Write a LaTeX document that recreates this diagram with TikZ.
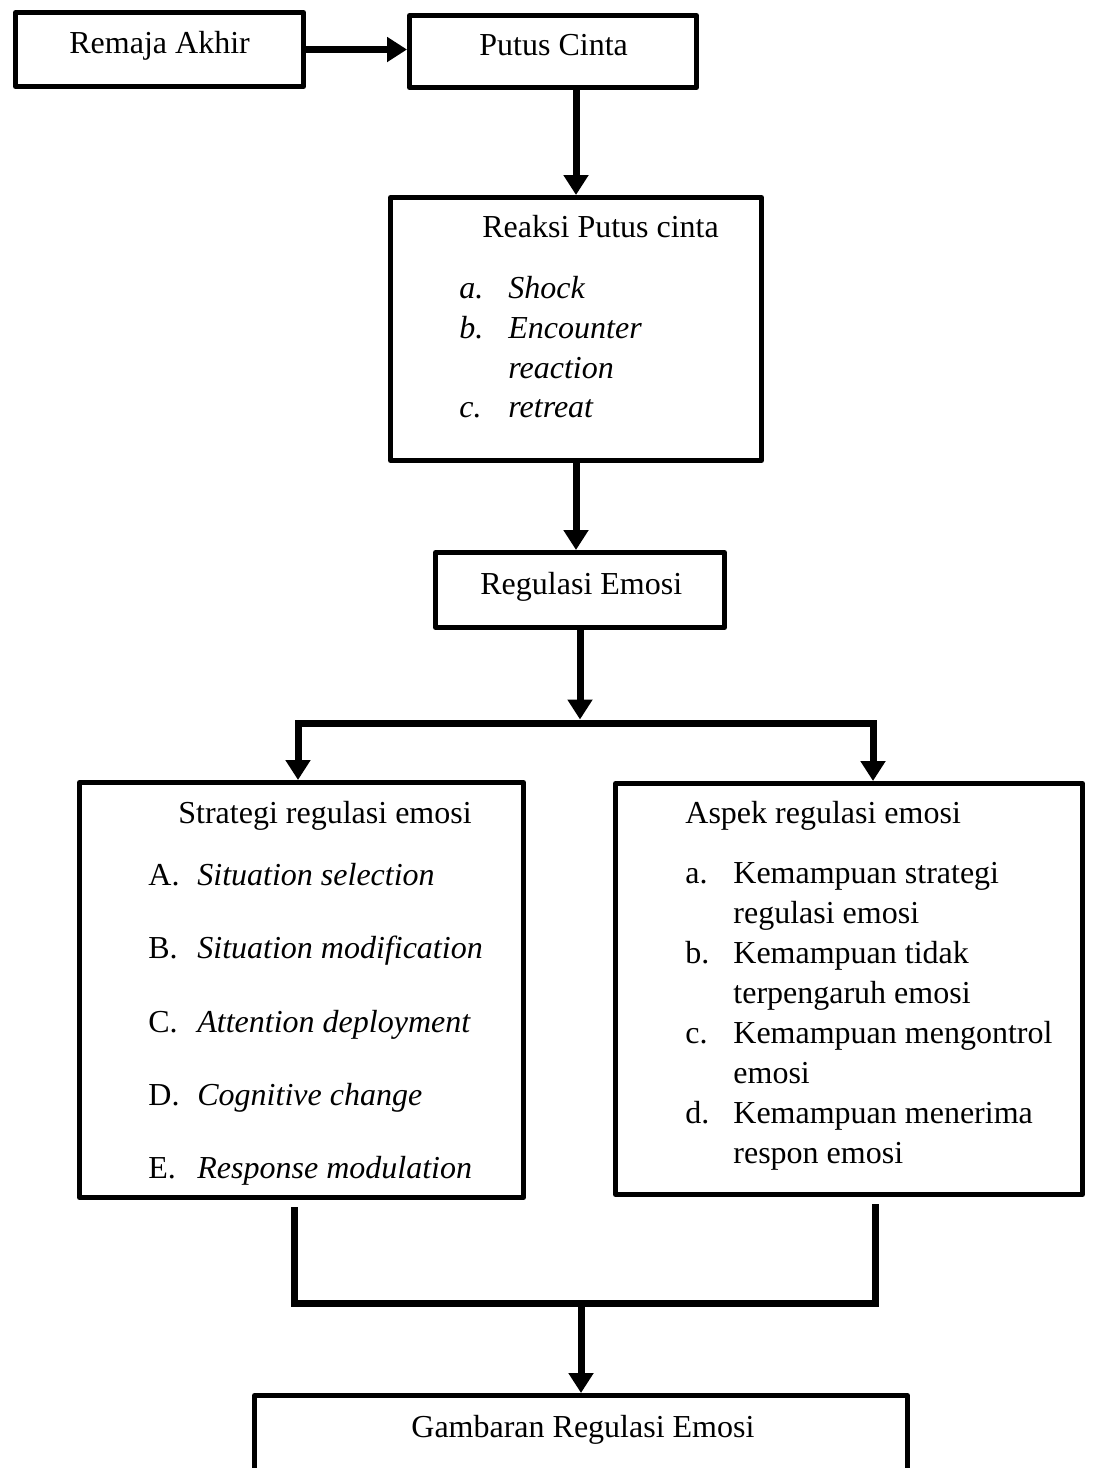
\documentclass[tikz,border=0pt]{standalone}
\usepackage{fontspec}
\setmainfont{Liberation Serif}
\usetikzlibrary{arrows.meta}
\begin{document}
\begin{tikzpicture}[x=0.5pt,y=-0.5pt,
  box/.style={draw, line width=2.5pt, inner sep=0pt, line join=round},
  txt/.style={inner sep=0pt, anchor=base west, font=\fontsize{16}{20}\selectfont},
  arr/.style={line width=3.5pt, -{Triangle[length=10pt,width=12pt]}, line join=miter},
  conn/.style={line width=3.5pt, line join=miter}]
\useasboundingbox (0,0) rectangle (1094,1468);
\clip (0,0) rectangle (1094,1468);

% boxes
\node[box, minimum width=144pt, minimum height=37pt] (remaja) at (159.5,49.5) {};
\node[box, minimum width=143.5pt, minimum height=36pt] (putus) at (553,51.5) {};
\node[box, minimum width=185.5pt, minimum height=131.5pt] (reaksi) at (576,329) {};
\node[box, minimum width=144.5pt, minimum height=37.5pt] (regulasi) at (580,590) {};
\node[box, minimum width=222pt, minimum height=207.5pt] (strategi) at (301.5,990) {};
\node[box, minimum width=233.5pt, minimum height=205.5pt] (aspek) at (849,989) {};
\node[box, minimum width=326.5pt, minimum height=61pt] (gambaran) at (581,1456.5) {};

% texts
\node[txt] (t1) at (69,53) {Remaja Akhir};
\node[txt] (t2) at (479,55) {Putus Cinta};
\node[txt] (t3) at (482,237) {Reaksi Putus cinta};
\node[txt] (r1a) at (459,298) {\itshape a.};
\node[txt] (r1b) at (508,298) {\itshape Shock};
\node[txt] (r2a) at (459,338) {\itshape b.};
\node[txt] (r2b) at (508,338) {\itshape Encounter};
\node[txt] (r2c) at (508,378) {\itshape reaction};
\node[txt] (r3a) at (459,417) {\itshape c.};
\node[txt] (r3b) at (508,417) {\itshape retreat};
\node[txt] (t4) at (480,594) {Regulasi Emosi};

\node[txt] (t5) at (178,823) {Strategi regulasi emosi};
\node[txt] (sA) at (148,885) {A.};
\node[txt] (sAt) at (197,885) {\itshape Situation selection};
\node[txt] (sB) at (148,958) {B.};
\node[txt] (sBt) at (197,958) {\itshape Situation modification};
\node[txt] (sC) at (148,1032) {C.};
\node[txt] (sCt) at (197,1032) {\itshape Attention deployment};
\node[txt] (sD) at (148,1105) {D.};
\node[txt] (sDt) at (197,1105) {\itshape Cognitive change};
\node[txt] (sE) at (148,1178) {E.};
\node[txt] (sEt) at (197,1178) {\itshape Response modulation};

\node[txt] (t6) at (685,823) {Aspek regulasi emosi};
\node[txt] (aa) at (685,883) {a.};
\node[txt] (aa1) at (733,883) {Kemampuan strategi};
\node[txt] (aa2) at (733,923) {regulasi emosi};
\node[txt] (ab) at (685,963) {b.};
\node[txt] (ab1) at (733,963) {Kemampuan tidak};
\node[txt] (ab2) at (733,1003) {terpengaruh emosi};
\node[txt] (ac) at (685,1043) {c.};
\node[txt] (ac1) at (733,1043) {Kemampuan mengontrol};
\node[txt] (ac2) at (733,1083) {emosi};
\node[txt] (ad) at (685,1123) {d.};
\node[txt] (ad1) at (733,1123) {Kemampuan menerima};
\node[txt] (ad2) at (733,1163) {respon emosi};

\node[txt] (t7) at (411,1437) {Gambaran Regulasi Emosi};

% connectors
\draw[arr] (remaja.east) -- (remaja.east -| putus.west);
\draw[arr] (putus.south -| reaksi.north) -- (reaksi.north);
\draw[arr] (reaksi.south) -- (reaksi.south |- regulasi.north);
\coordinate (split) at (578,723);
\coordinate (splittop) at (578,719.5);
\coordinate (barL) at (298,723);
\coordinate (barR) at (873,723);
\draw[arr] (regulasi.south) -- (regulasi.south |- splittop);
\draw[arr] (split) -| (barL |- strategi.north);
\draw[arr] (split) -| (barR |- aspek.north);

\coordinate (botL) at (294,1207);
\coordinate (botR) at (875,1204);
\coordinate (merge) at (581,1303);
\draw[conn] (botL) |- (merge) -| (botR);
\draw[arr] (merge) -- (gambaran.north);
\end{tikzpicture}
\end{document}
